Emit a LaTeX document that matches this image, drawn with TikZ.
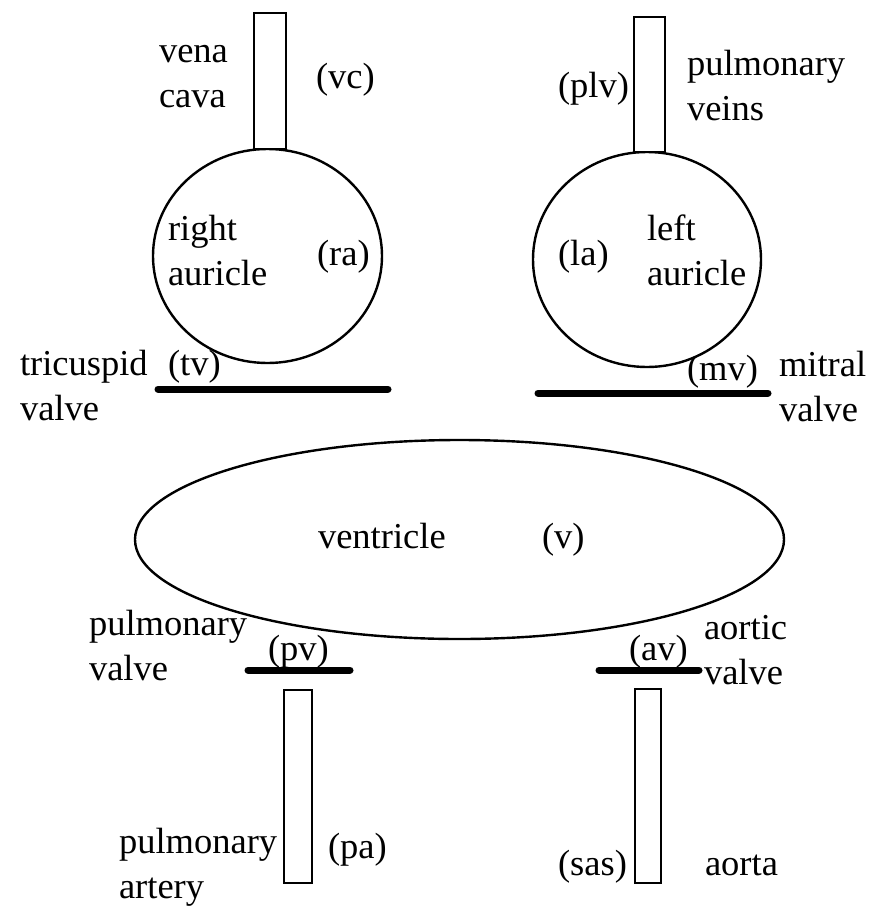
\documentclass[tikz,border=0pt]{standalone}
\usepackage{fontspec}
\setmainfont{Liberation Serif}
\usetikzlibrary{shapes.geometric}
\begin{document}
\begin{tikzpicture}[x=1pt,y=-1pt,
  lbl/.style={anchor=base west,inner sep=0pt,outer sep=0pt,align=left,font=\fontsize{36.5}{45}\selectfont},
  vessel/.style={draw,line width=2.4pt,fill=white,rectangle,inner sep=0pt,outer sep=0pt},
  chamber/.style={draw,line width=2.4pt,ellipse,inner sep=0pt,outer sep=0pt},
  valveline/.style={line width=7pt,line cap=round}]
\useasboundingbox (0,0) rectangle (876,906);
% chambers
\node[chamber,minimum width=229pt,minimum height=214pt] (ra) at (267.5,256) {};
\node[chamber,minimum width=228pt,minimum height=215pt] (la) at (647,259.5) {};
\node[chamber,minimum width=649pt,minimum height=199pt] (v) at (459.5,539.5) {};
% vessels
\node[vessel,minimum width=32pt,minimum height=136pt] (vc) at (270,81) {};
\node[vessel,minimum width=31pt,minimum height=135pt] (plv) at (649.5,84.5) {};
\node[vessel,minimum width=28pt,minimum height=193pt] (pa) at (298,786.5) {};
\node[vessel,minimum width=26pt,minimum height=194pt] (sas) at (648,786) {};
% valves
\coordinate (tvL) at (158,389); \coordinate (tvR) at (388,389);
\coordinate (mvL) at (538,393); \coordinate (mvR) at (768,393);
\coordinate (pvL) at (248,670); \coordinate (pvR) at (350,670);
\coordinate (avL) at (599,670); \coordinate (avR) at (699,670);
\draw[valveline] (tvL) -- (tvR);
\draw[valveline] (mvL) -- (mvR);
\draw[valveline] (pvL) -- (pvR);
\draw[valveline] (avL) -- (avR);
% labels (two-line labels anchored at the baseline of their last line)
\node[lbl] (tvena) at (159,107) {vena\\cava};
\node[lbl] (tvc) at (316,88) {(vc)};
\node[lbl] (tright) at (168,285) {right\\auricle};
\node[lbl] (tra) at (317,265) {(ra)};
\node[lbl] (ttri) at (20,420) {tricuspid\\valve};
\node[lbl] (ttv) at (168,375) {(tv)};
\node[lbl] (tplv) at (558,97) {(plv)};
\node[lbl] (tpulv) at (687,120) {pulmonary\\veins};
\node[lbl] (tla) at (558,265) {(la)};
\node[lbl] (tleft) at (647,285) {left\\auricle};
\node[lbl] (tmv) at (687,380) {(mv)};
\node[lbl] (tmitral) at (779,421) {mitral\\valve};
\node[lbl] (tventricle) at (318,548) {ventricle};
\node[lbl] (tv) at (542,548) {(v)};
\node[lbl] (tpulval) at (89,680) {pulmonary\\valve};
\node[lbl] (tpv) at (268,660) {(pv)};
\node[lbl] (taortic) at (704,684) {aortic\\valve};
\node[lbl] (tav) at (629,660) {(av)};
\node[lbl] (tpulart) at (119,898) {pulmonary\\artery};
\node[lbl] (tpa) at (328,858) {(pa)};
\node[lbl] (tsas) at (558,875) {(sas)};
\node[lbl] (taorta) at (705,875) {aorta};
\end{tikzpicture}
\end{document}
